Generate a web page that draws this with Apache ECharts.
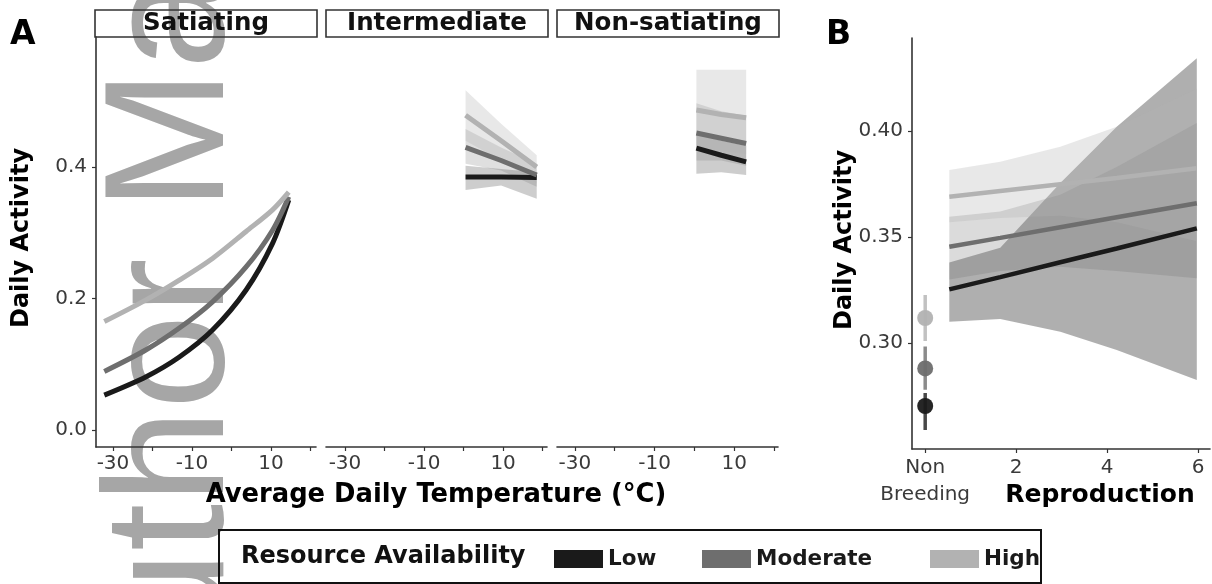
<!DOCTYPE html>
<html>
<head>
<meta charset="utf-8">
<script src="https://cdn.jsdelivr.net/npm/echarts@6/dist/echarts.min.js"></script>
<style>
  html, body { margin: 0; padding: 0; background: #fff; }
  #chart { width: 1212px; height: 584px; }
</style>
</head>
<body>
<div id="chart"></div>
<script>
// resource levels and their grey shades
const levels = ["Low", "Moderate", "High"];
const shades = ["#1a1a1a", "#6e6e6e", "#b2b2b2"];

// panel A tick marks
const tempTicks = [-30, -20, -10, 0, 10, 20];
const tempLabels = [-30, -10, 10];
const actTicksA = [0, 0.2, 0.4];

// A: Satiating
const satX = [-32.2, -21.6, -13.2, -4.8, 3.7, 10.4, 14.5];
const satLow = [0.053, 0.081, 0.111, 0.152, 0.213, 0.284, 0.350];
const satMod = [0.089, 0.122, 0.155, 0.195, 0.248, 0.304, 0.355];
const satHigh = [0.165, 0.198, 0.228, 0.261, 0.302, 0.335, 0.362];

// A: Intermediate
const intX = [0.5, 9.5, 18.5];
const intLow = [0.385, 0.385, 0.384];
const intLowLo = [0.365, 0.372, 0.352];
const intLowHi = [0.402, 0.397, 0.392];
const intMod = [0.430, 0.410, 0.388];
const intModLo = [0.405, 0.395, 0.370];
const intModHi = [0.458, 0.430, 0.405];
const intHigh = [0.479, 0.440, 0.400];
const intHighLo = [0.440, 0.410, 0.375];
const intHighHi = [0.517, 0.466, 0.418];

// A: Non-satiating
const nonX = [0.5, 6.75, 13];
const nonLow = [0.429, 0.418, 0.408];
const nonLowLo = [0.390, 0.392, 0.388];
const nonLowHi = [0.450, 0.440, 0.432];
const nonMod = [0.452, 0.444, 0.436];
const nonModLo = [0.410, 0.410, 0.402];
const nonModHi = [0.497, 0.485, 0.478];
const nonHigh = [0.487, 0.480, 0.475];
const nonHighLo = [0.430, 0.425, 0.420];
const nonHighHi = [0.548, 0.548, 0.548];

// B: reproduction
const reproTicks = [0, 2, 4, 6];
const actTicksB = [0.30, 0.35, 0.40];
const repX = [0.53, 1.65, 2.97, 4.21, 5.97];
const repLow = [0.3253, 0.3311, 0.3381, 0.3446, 0.3541];
const repLowLo = [0.310, 0.3113, 0.3053, 0.2967, 0.2825];
const repLowHi = [0.338, 0.345, 0.3755, 0.402, 0.4343];
const repMod = [0.3454, 0.3496, 0.3546, 0.3593, 0.3659];
const repModLo = [0.330, 0.334, 0.336, 0.334, 0.3306];
const repModHi = [0.3596, 0.362, 0.370, 0.383, 0.4038];
const repHigh = [0.369, 0.3717, 0.3749, 0.3779, 0.3824];
const repHighLo = [0.357, 0.359, 0.360, 0.357, 0.348];
const repHighHi = [0.3816, 0.3855, 0.3926, 0.402, 0.420];

// B: non breeding points with error bars
const nbMean = [0.2703, 0.2880, 0.3118];
const nbLo = [0.259, 0.278, 0.301];
const nbHi = [0.2764, 0.2983, 0.3226];

const FONT = '"DejaVu Sans", sans-serif';
const AXIS = "#333";
const LABEL = "#3a3a3a";

function pts(xs, ys) {
  return xs.map((x, i) => [x, ys[i]]);
}

// confidence ribbon drawn as one polygon through the axis scales
function band(xs, lo, hi, color, ax, op) {
  return {
    type: "custom", xAxisIndex: ax, yAxisIndex: ax, silent: true, z: 1,
    data: xs.map((x, i) => [x, lo[i], hi[i]]),
    encode: { x: 0, y: [1, 2] },
    renderItem: (params, api) => {
      if (params.dataIndex !== 0) return null;
      const top = xs.map((x, i) => api.coord([x, hi[i]]));
      const bot = xs.map((x, i) => api.coord([x, lo[i]])).reverse();
      return { type: "polygon", shape: { points: top.concat(bot) },
        style: { fill: color, opacity: op } };
    }
  };
}

function curve(lvl, xs, ys, ax, width, smooth) {
  const c = shades[lvl];
  return { type: "line", name: levels[lvl], xAxisIndex: ax, yAxisIndex: ax,
    data: pts(xs, ys), symbol: "none", smooth: smooth ? 0.3 : false,
    silent: true, lineStyle: { color: c, width: width }, itemStyle: { color: c }, z: 3 };
}

function tempAxis(idx, min, max) {
  return {
    type: "value", gridIndex: idx, min: min, max: max,
    splitLine: { show: false },
    axisLine: { onZero: false, lineStyle: { color: AXIS, width: 1.6 } },
    axisTick: { length: 4, customValues: tempTicks, lineStyle: { color: AXIS, width: 1.2 } },
    axisLabel: { customValues: tempLabels, fontSize: 20, color: LABEL, margin: 7, fontFamily: FONT }
  };
}

const series = [];
// ribbons first
series.push(band(intX, intLowLo, intLowHi, shades[0], 1, 0.22));
series.push(band(intX, intModLo, intModHi, shades[1], 1, 0.22));
series.push(band(intX, intHighLo, intHighHi, shades[2], 1, 0.3));
series.push(band(nonX, nonLowLo, nonLowHi, shades[0], 2, 0.22));
series.push(band(nonX, nonModLo, nonModHi, shades[1], 2, 0.22));
series.push(band(nonX, nonHighLo, nonHighHi, shades[2], 2, 0.3));
series.push(band(repX, repLowLo, repLowHi, shades[0], 3, 0.35));
series.push(band(repX, repModLo, repModHi, shades[1], 3, 0.25));
series.push(band(repX, repHighLo, repHighHi, shades[2], 3, 0.3));

// lines
series.push(curve(0, satX, satLow, 0, 5, true));
series.push(curve(1, satX, satMod, 0, 5, true));
series.push(curve(2, satX, satHigh, 0, 5, true));
series.push(curve(0, intX, intLow, 1, 5));
series.push(curve(1, intX, intMod, 1, 5));
series.push(curve(2, intX, intHigh, 1, 5));
series.push(curve(0, nonX, nonLow, 2, 5));
series.push(curve(1, nonX, nonMod, 2, 5));
series.push(curve(2, nonX, nonHigh, 2, 5));
series.push(curve(0, repX, repLow, 3, 4.5));
series.push(curve(1, repX, repMod, 3, 4.5));
series.push(curve(2, repX, repHigh, 3, 4.5));

// non breeding error bars and points
levels.forEach((lv, i) => {
  series.push({ type: "line", name: lv + "_err", xAxisIndex: 3, yAxisIndex: 3,
    data: [[0, nbLo[i]], [0, nbHi[i]]], symbol: "none", silent: true,
    lineStyle: { color: shades[i], width: 3.5, opacity: 0.8 }, z: 4 });
  series.push({ type: "scatter", name: lv, xAxisIndex: 3, yAxisIndex: 3,
    data: [[0, nbMean[i]]], symbolSize: 16, silent: true,
    itemStyle: { color: shades[i], opacity: 0.95 }, z: 5 });
});

const legendBase = {
  top: 548, padding: 0, icon: "rect", itemWidth: 49, itemHeight: 18, itemGap: 0, selectedMode: false,
  textStyle: { fontFamily: FONT, fontWeight: "bold", fontSize: 21.5, color: "#1a1a1a" }
};

const option = {
  animation: false,
  backgroundColor: "#fff",
  grid: [
    { left: 96, top: 37, width: 220, height: 410, outerBoundsMode: "none" },
    { left: 326, top: 37, width: 221, height: 410, outerBoundsMode: "none" },
    { left: 557, top: 37, width: 221, height: 410, outerBoundsMode: "none" },
    { left: 912, top: 38, width: 298, height: 411, outerBoundsMode: "none" }
  ],
  xAxis: [
    tempAxis(0, -34.3, 21.4),
    tempAxis(1, -34.8, 21.1),
    tempAxis(2, -34.5, 21.0),
    {
      type: "value", gridIndex: 3, min: -0.29, max: 6.26,
      splitLine: { show: false },
      axisLine: { onZero: false, lineStyle: { color: AXIS, width: 1.6 } },
      axisTick: { length: 4, customValues: reproTicks, lineStyle: { color: AXIS, width: 1.2 } },
      axisLabel: { customValues: reproTicks, fontSize: 20, color: LABEL, margin: 5, lineHeight: 27,
        fontFamily: FONT, formatter: v => (v === 0 ? "Non\nBreeding" : String(v)) }
    }
  ],
  yAxis: [
    {
      type: "value", gridIndex: 0, min: -0.026, max: 0.598,
      splitLine: { show: false },
      axisLine: { onZero: false, lineStyle: { color: AXIS, width: 1.6 } },
      axisTick: { length: 4, customValues: actTicksA, lineStyle: { color: AXIS, width: 1.2 } },
      axisLabel: { customValues: actTicksA, fontSize: 20, color: LABEL, margin: 9, fontFamily: FONT,
        formatter: v => v.toFixed(1) }
    },
    { type: "value", gridIndex: 1, min: -0.026, max: 0.598, show: false },
    { type: "value", gridIndex: 2, min: -0.026, max: 0.598, show: false },
    {
      type: "value", gridIndex: 3, min: 0.25, max: 0.4439,
      splitLine: { show: false },
      axisLine: { onZero: false, lineStyle: { color: AXIS, width: 1.6 } },
      axisTick: { length: 4, customValues: actTicksB, lineStyle: { color: AXIS, width: 1.2 } },
      axisLabel: { customValues: actTicksB, fontSize: 20, color: LABEL, margin: 9, fontFamily: FONT,
        formatter: v => v.toFixed(2) }
    }
  ],
  legend: [
    Object.assign({ left: 554, data: ["Low"] }, legendBase),
    Object.assign({ left: 702, data: ["Moderate"] }, legendBase),
    Object.assign({ left: 930, data: ["High"] }, legendBase)
  ],
  graphic: [
    // watermark, behind everything
    { type: "text", x: 176, y: 759, rotation: Math.PI / 2, z: -10, silent: true,
      style: { text: "Author Manuscript", font: '170px "Liberation Sans", Arial, sans-serif',
        fill: "#a6a6a6", textAlign: "left", align: "left", textVerticalAlign: "middle", verticalAlign: "middle" } },
    // panel letters
    { type: "text", x: 10, y: 35, z: 100,
      style: { text: "A", font: 'bold 33px ' + FONT, fill: "#000", textVerticalAlign: "middle", verticalAlign: "middle" } },
    { type: "text", x: 826, y: 35, z: 100,
      style: { text: "B", font: 'bold 33px ' + FONT, fill: "#000", textVerticalAlign: "middle", verticalAlign: "middle" } },
    // facet strips
    ...[["Satiating", 95, 222], ["Intermediate", 326, 222], ["Non-satiating", 557, 222]].flatMap(s => [
      { type: "rect", z: 100, shape: { x: s[1], y: 10, width: s[2], height: 27 },
        style: { fill: "none", stroke: "#333", lineWidth: 1.6 } },
      { type: "text", x: s[1] + s[2] / 2, y: 23.5, z: 100,
        style: { text: s[0], font: 'bold 24.5px ' + FONT, fill: "#111",
          textAlign: "center", align: "center", textVerticalAlign: "middle", verticalAlign: "middle" } }
    ]),
    // axis titles
    { type: "text", x: 22, y: 238, rotation: Math.PI / 2, z: 100,
      style: { text: "Daily Activity", font: 'bold 24px ' + FONT, fill: "#000",
        textAlign: "center", align: "center", textVerticalAlign: "middle", verticalAlign: "middle" } },
    { type: "text", x: 845, y: 240, rotation: Math.PI / 2, z: 100,
      style: { text: "Daily Activity", font: 'bold 24px ' + FONT, fill: "#000",
        textAlign: "center", align: "center", textVerticalAlign: "middle", verticalAlign: "middle" } },
    { type: "text", x: 436, y: 495, z: 100,
      style: { text: "Average Daily Temperature (°C)", font: 'bold 25.8px ' + FONT, fill: "#000",
        textAlign: "center", align: "center", textVerticalAlign: "middle", verticalAlign: "middle" } },
    { type: "text", x: 1100, y: 495, z: 100,
      style: { text: "Reproduction", font: 'bold 25px ' + FONT, fill: "#000",
        textAlign: "center", align: "center", textVerticalAlign: "middle", verticalAlign: "middle" } },
    // legend frame
    { type: "rect", z: 100, shape: { x: 219, y: 530, width: 822, height: 53 },
      style: { fill: "none", stroke: "#111", lineWidth: 2 } },
    { type: "text", x: 241, y: 557, z: 100,
      style: { text: "Resource Availability", font: 'bold 24px ' + FONT, fill: "#111",
        textVerticalAlign: "middle", verticalAlign: "middle" } }
  ],
  series: series
};

const chart = echarts.init(document.getElementById("chart"), null, { renderer: "canvas" });
chart.setOption(option);
</script>
</body>
</html>
